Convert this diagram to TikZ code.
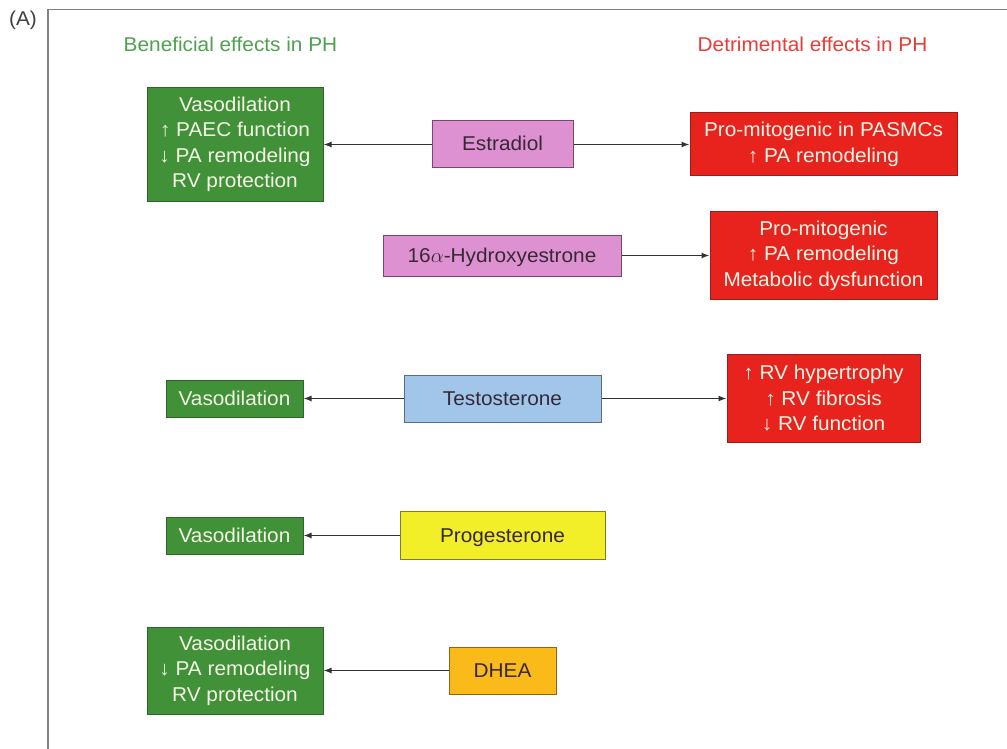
\documentclass[tikz,border=0pt]{standalone}
\usepackage{fontspec}
\setmainfont{Liberation Sans}[FakeStretch=1.04]
\usetikzlibrary{arrows.meta}
\definecolor{gfill}{RGB}{64,145,56}
\definecolor{gdraw}{RGB}{45,100,40}
\definecolor{rfill}{RGB}{232,35,30}
\definecolor{rdraw}{RGB}{150,30,30}
\definecolor{pfill}{RGB}{222,145,208}
\definecolor{pdraw}{RGB}{120,70,110}
\definecolor{bfill}{RGB}{162,198,234}
\definecolor{bdraw}{RGB}{90,110,130}
\definecolor{yfill}{RGB}{242,238,40}
\definecolor{ydraw}{RGB}{130,125,40}
\definecolor{ofill}{RGB}{250,186,25}
\definecolor{odraw}{RGB}{140,100,30}
\definecolor{boxtext}{RGB}{245,245,230}
\definecolor{darktext}{RGB}{55,40,55}
\definecolor{ghead}{RGB}{80,160,80}
\definecolor{rhead}{RGB}{232,60,55}
\definecolor{framec}{RGB}{130,130,130}
\definecolor{arrc}{RGB}{50,50,50}
\tikzset{
  base/.style={inner sep=0pt, align=center, font=\fontsize{20}{25.5}\selectfont, line width=1pt},
  goodbox/.style={base, fill=gfill, draw=gdraw, text=boxtext},
  badbox/.style={base, fill=rfill, draw=rdraw, text=boxtext},
  oneline/.style={text height=16pt, text depth=3pt},
  hormone/.style={base, oneline, text=darktext},
  head/.style={inner sep=0pt, font=\fontsize{20}{24}\selectfont},
  arr/.style={-{Latex[length=8pt,width=6pt]}, draw=arrc, line width=1.4pt},
}
\begin{document}
\begin{tikzpicture}[x=1pt,y=-1pt]
\useasboundingbox (0,0) rectangle (1007,749);
\fill[white] (0,0) rectangle (1007,749);
\draw[framec, line width=1.5pt] (48,749) -- (48,9.5) -- (1007,9.5);
\node[head, text=black!75] (lab) at (23,20) {(A)};
\node[head, text=ghead] (hgood) at (230.5,44) {Beneficial effects in PH};
\node[head, text=rhead] (hbad) at (812.5,44) {Detrimental effects in PH};

% row 1
\node[goodbox, minimum width=176pt, minimum height=114pt] (g1) at (235,144.5)
  {Vasodilation\\↑ PAEC function\\↓ PA remodeling\\RV protection};
\node[hormone, fill=pfill, draw=pdraw, minimum width=141pt, minimum height=47pt] (estr) at (502.5,144.5) {Estradiol};
\node[badbox, minimum width=267pt, minimum height=63pt] (r1) at (823.5,144.5)
  {Pro-mitogenic in PASMCs\\↑ PA remodeling};
% row 2
\node[hormone, fill=pfill, draw=pdraw, minimum width=238pt, minimum height=41pt] (hyd) at (502,255.5) {16$\alpha$-Hydroxyestrone};
\node[badbox, minimum width=227pt, minimum height=88pt] (r2) at (823.5,255.5)
  {Pro-mitogenic\\↑ PA remodeling\\Metabolic dysfunction};
% row 3
\node[goodbox, oneline, minimum width=137pt, minimum height=37pt] (v1) at (234.5,398.5) {Vasodilation};
\node[hormone, fill=bfill, draw=bdraw, minimum width=197pt, minimum height=47pt] (test) at (502.5,398.5) {Testosterone};
\node[badbox, minimum width=193pt, minimum height=88pt] (r3) at (823.5,398.5)
  {↑ RV hypertrophy\\↑ RV fibrosis\\↓ RV function};
% row 4
\node[goodbox, oneline, minimum width=137pt, minimum height=37pt] (v2) at (234.5,535.5) {Vasodilation};
\node[hormone, fill=yfill, draw=ydraw, minimum width=205pt, minimum height=48pt] (prog) at (502.5,535.5) {Progesterone};
% row 5
\node[goodbox, minimum width=176pt, minimum height=87pt] (g2) at (235,670.5)
  {Vasodilation\\↓ PA remodeling\\RV protection};
\node[hormone, fill=ofill, draw=odraw, minimum width=107pt, minimum height=47pt] (dhea) at (502.5,670.5) {DHEA};

\draw[arr] (estr) -- (g1);
\draw[arr] (estr) -- (r1);
\draw[arr] (hyd) -- (r2);
\draw[arr] (test) -- (v1);
\draw[arr] (test) -- (r3);
\draw[arr] (prog) -- (v2);
\draw[arr] (dhea) -- (g2);
\end{tikzpicture}
\end{document}
